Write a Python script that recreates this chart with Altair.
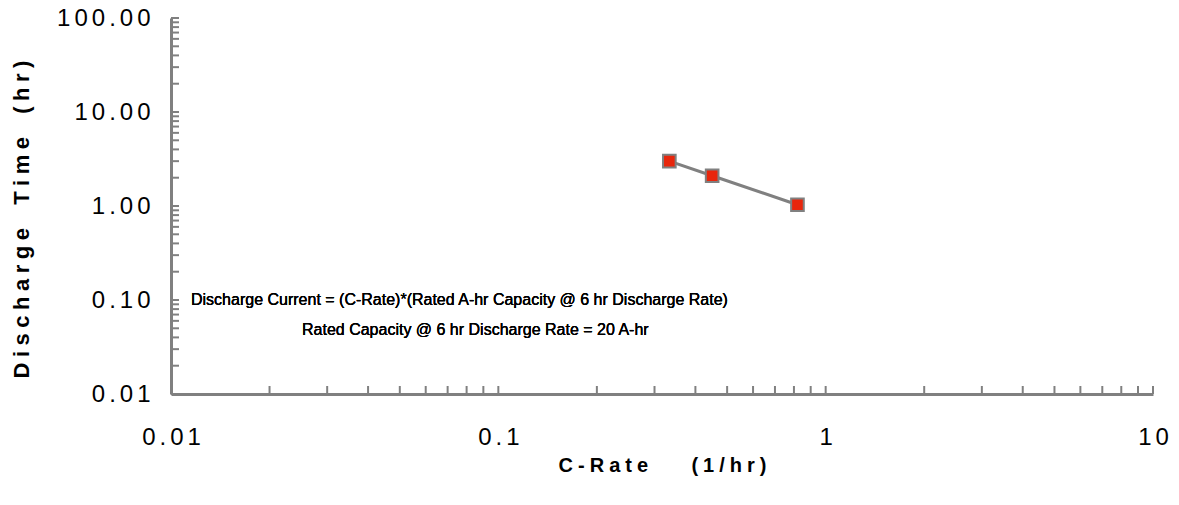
import altair as alt
import pandas as pd

# ---- data ----
c_rate = [0.333, 0.45, 0.82]
discharge_time = [3.0, 2.1, 1.03]

x_label_values = [0.01, 0.1, 1, 10]
y_label_values = [0.01, 0.1, 1, 10, 100]

x_tick_values = [0.01, 0.02, 0.03, 0.04, 0.05, 0.06, 0.07, 0.08, 0.09,
                 0.1, 0.2, 0.3, 0.4, 0.5, 0.6, 0.7, 0.8, 0.9,
                 1, 2, 3, 4, 5, 6, 7, 8, 9, 10]
y_tick_values = [0.01, 0.02, 0.03, 0.04, 0.05, 0.06, 0.07, 0.08, 0.09,
                 0.1, 0.2, 0.3, 0.4, 0.5, 0.6, 0.7, 0.8, 0.9,
                 1, 2, 3, 4, 5, 6, 7, 8, 9,
                 10, 20, 30, 40, 50, 60, 70, 80, 90, 100]

note_lines = [
    "Discharge Current = (C-Rate)*(Rated A-hr Capacity @ 6 hr Discharge Rate)",
    "Rated Capacity @ 6 hr Discharge Rate = 20 A-hr",
]

QUARTER = "\u2005"
NBSP = "\u00a0"


def spaced(text, n_nbsp):
    words = text.split(" ")
    sep = QUARTER + NBSP * n_nbsp + QUARTER
    return sep.join(QUARTER.join(list(w)) for w in words)


x_title = spaced("C-Rate (1/hr)", 6)
y_title = spaced("Discharge Time (hr)", 2)

W, H = 982, 376
GRAY = "#808080"
FONT = "Liberation Sans"

df = pd.DataFrame({"c_rate": c_rate, "time": discharge_time})
xt = pd.DataFrame({"v": x_tick_values})
yt = pd.DataFrame({"v": y_tick_values})

x_scale = alt.Scale(type="log", domain=[0.01, 10], nice=False)
y_scale = alt.Scale(type="log", domain=[0.01, 100], nice=False)

x_axis = alt.Axis(
    values=x_label_values,
    labelExpr="join(split(format(datum.value, '~g'), ''), '\u2006')",
    ticks=False, tickSize=0, grid=False,
    domainColor=GRAY, domainWidth=3,
    labelFont=FONT, labelFontSize=24, labelColor="black", labelPadding=31,
    labelFlush=False, labelOverlap=False,
    title=x_title, titleFont=FONT, titleFontSize=20, titleFontWeight="bold",
    titleColor="black", titleY=71, titleBaseline="middle",
)
y_axis = alt.Axis(
    values=y_label_values,
    labelExpr="join(split(format(datum.value, '.2f'), ''), '\u2006')",
    ticks=False, tickSize=0, grid=False,
    domainColor=GRAY, domainWidth=3,
    labelFont=FONT, labelFontSize=24, labelColor="black", labelPadding=21,
    labelFlush=False, labelOverlap=False, labelBaseline="middle",
    title=y_title, titleFont=FONT, titleFontSize=22, titleFontWeight="bold",
    titleColor="black", titleAngle=-90, titleX=-150, titleY=201,
    titleBaseline="middle", titleAlign="center",
)

line = alt.Chart(df).mark_line(color=GRAY, strokeWidth=3).encode(
    x=alt.X("c_rate:Q", scale=x_scale, axis=x_axis),
    y=alt.Y("time:Q", scale=y_scale, axis=y_axis),
)
points = alt.Chart(df).mark_point(
    shape="square", filled=True, fill="#e8260c", stroke=GRAY,
    strokeWidth=2, size=160, opacity=1,
).encode(
    x=alt.X("c_rate:Q", scale=x_scale, axis=x_axis),
    y=alt.Y("time:Q", scale=y_scale, axis=y_axis),
)

y_ticks = alt.Chart(yt).mark_rule(color=GRAY, strokeWidth=2).encode(
    y=alt.Y("v:Q", scale=y_scale, axis=y_axis),
    x=alt.value(0), x2=alt.value(8),
)
x_ticks = alt.Chart(xt).mark_rule(color=GRAY, strokeWidth=2).encode(
    x=alt.X("v:Q", scale=x_scale, axis=x_axis),
    y=alt.value(H), y2=alt.value(H - 8),
)

note1 = alt.Chart(df).mark_text(
    align="left", baseline="alphabetic", font=FONT, fontSize=16, color="black"
).encode(x=alt.value(20), y=alt.value(287), text=alt.value(note_lines[0]))
note2 = alt.Chart(df).mark_text(
    align="left", baseline="alphabetic", font=FONT, fontSize=16, color="black"
).encode(x=alt.value(131), y=alt.value(317), text=alt.value(note_lines[1]))

chart = alt.layer(y_ticks, x_ticks, line, points, note1, note2).properties(
    width=W, height=H,
    autosize=alt.AutoSizeParams(type="none"),
    padding={"left": 163, "top": 10, "right": 16, "bottom": 90},
    background="white",
).configure_view(stroke=None)

chart.save("out.html", embed_options={"renderer": "svg", "actions": False})
